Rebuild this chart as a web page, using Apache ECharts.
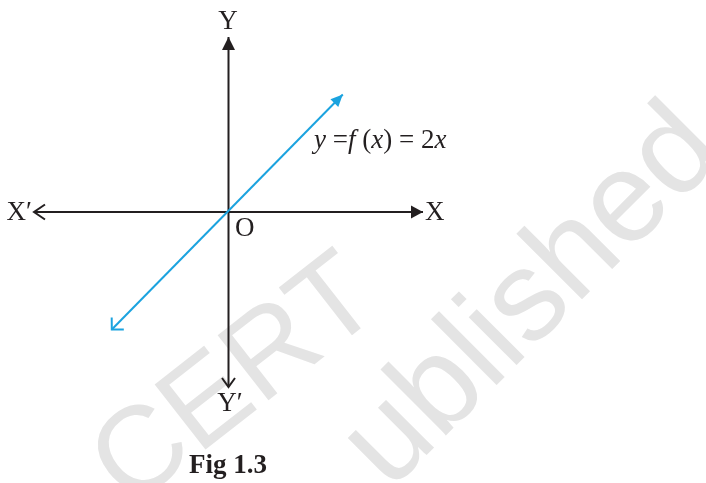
<!DOCTYPE html>
<html>
<head>
<meta charset="utf-8">
<script src="https://cdn.jsdelivr.net/npm/echarts@6/dist/echarts.min.js"></script>
<style>
html,body{margin:0;padding:0;background:#fff;}
#chart{width:706px;height:483px;}
</style>
</head>
<body>
<div id="chart"></div>
<script>
// ---- data ----
const xAxisEnds = [-4, 4];          // X'X axis extent (units)
const yAxisEnds = [-7, 7];          // Y'Y axis extent (units)
const lineX = [-2.4, 2.35];         // y = 2x drawn segment, x values
const lineY = [-4.7, 4.7];          // y values
const axisLabels = ["X\u2032", "X", "Y", "Y\u2032", "O"];
const caption = "Fig 1.3";
const watermark = ["CERT", "ublished"];

const INK = '#231f20';
const BLUE = '#1ba3df';
const SERIF = '"Liberation Serif", "DejaVu Serif", serif';
const WM = '#e4e4e4';

const chart = echarts.init(document.getElementById('chart'), null, {renderer: 'canvas'});

// arrow head spec: [type, length, halfWidth]
function makeArrowSeries(seg, color, startHead, endHead, z) {
  return {
    type: 'custom', coordinateSystem: 'cartesian2d', clip: false, z: z, silent: true,
    data: [seg],
    renderItem: function (params, api) {
      const p1 = api.coord([api.value(0), api.value(1)]);
      const p2 = api.coord([api.value(2), api.value(3)]);
      const dx = p2[0] - p1[0], dy = p2[1] - p1[1];
      const len = Math.sqrt(dx * dx + dy * dy);
      const d = [dx / len, dy / len];
      const n = [-d[1], d[0]];
      const children = [{
        type: 'line', shape: {x1: p1[0], y1: p1[1], x2: p2[0], y2: p2[1]},
        style: {stroke: color, lineWidth: 2}
      }];
      function head(tip, dir, spec) {
        const L = spec[1], W = spec[2];
        const b1 = [tip[0] - dir[0] * L + n[0] * W, tip[1] - dir[1] * L + n[1] * W];
        const b2 = [tip[0] - dir[0] * L - n[0] * W, tip[1] - dir[1] * L - n[1] * W];
        if (spec[0] === 'tri') {
          children.push({type: 'polygon', shape: {points: [tip, b1, b2]}, style: {fill: color}});
        } else {
          children.push({type: 'polyline', shape: {points: [b1, tip, b2]},
            style: {stroke: color, fill: null, lineWidth: 2, lineJoin: 'miter'}});
        }
      }
      head(p2, d, endHead);
      head(p1, [-d[0], -d[1]], startHead);
      return {type: 'group', children: children};
    }
  };
}

const option = {
  animation: false,
  backgroundColor: '#ffffff',
  grid: {left: 34, top: 37, width: 389, height: 350},
  xAxis: {type: 'value', min: xAxisEnds[0], max: xAxisEnds[1], show: false},
  yAxis: {type: 'value', min: yAxisEnds[0], max: yAxisEnds[1], show: false},
  graphic: [
    {type: 'text', x: 146, y: 530, rotation: 38 * Math.PI / 180, z: -10,
     style: {text: watermark[0], font: '120px "Liberation Sans", Arial, sans-serif', fill: WM, align: 'left', verticalAlign: 'bottom'}},
    {type: 'text', x: 410, y: 512, rotation: Math.PI / 4, z: -10,
     style: {text: watermark[1], font: '128px "Liberation Sans", Arial, sans-serif', fill: WM, align: 'left', verticalAlign: 'bottom'}},
    {type: 'text', x: 228, y: 22, z: 10,
     style: {text: axisLabels[2], font: '27px ' + SERIF, fill: INK, align: 'center', verticalAlign: 'middle'}},
    {type: 'text', x: 32, y: 213, z: 10,
     style: {text: axisLabels[0], font: '27px ' + SERIF, fill: INK, align: 'right', verticalAlign: 'middle'}},
    {type: 'text', x: 425, y: 213, z: 10,
     style: {text: axisLabels[1], font: '27px ' + SERIF, fill: INK, align: 'left', verticalAlign: 'middle'}},
    {type: 'text', x: 235, y: 229, z: 10,
     style: {text: axisLabels[4], font: '27px ' + SERIF, fill: INK, align: 'left', verticalAlign: 'middle'}},
    {type: 'text', x: 230, y: 404, z: 10,
     style: {text: axisLabels[3], font: '27px ' + SERIF, fill: INK, align: 'center', verticalAlign: 'middle'}},
    {type: 'text', x: 314, y: 141, z: 10,
     style: {
       text: '{i|y}{n| =}{i|f}{n| (}{i|x}{n|) = 2}{i|x}',
       align: 'left', verticalAlign: 'middle',
       rich: {
         i: {font: 'italic 27px ' + SERIF, fill: INK},
         n: {font: '27px ' + SERIF, fill: INK}
       }
     }},
    {type: 'text', x: 228, y: 466, z: 10,
     style: {text: caption, font: 'bold 27px ' + SERIF, fill: INK, align: 'center', verticalAlign: 'middle'}}
  ],
  series: [
    makeArrowSeries([xAxisEnds[0], 0, xAxisEnds[1], 0], INK, ['chev', 11, 7.5], ['tri', 12, 6.5], 2),
    makeArrowSeries([0, yAxisEnds[0], 0, yAxisEnds[1]], INK, ['chev', 9, 6.5], ['tri', 13, 6.5], 2),
    makeArrowSeries([lineX[0], lineY[0], lineX[1], lineY[1]], BLUE, ['chev', 8.5, 8.5], ['tri', 12, 5.5], 3)
  ]
};
chart.setOption(option);
</script>
</body>
</html>
